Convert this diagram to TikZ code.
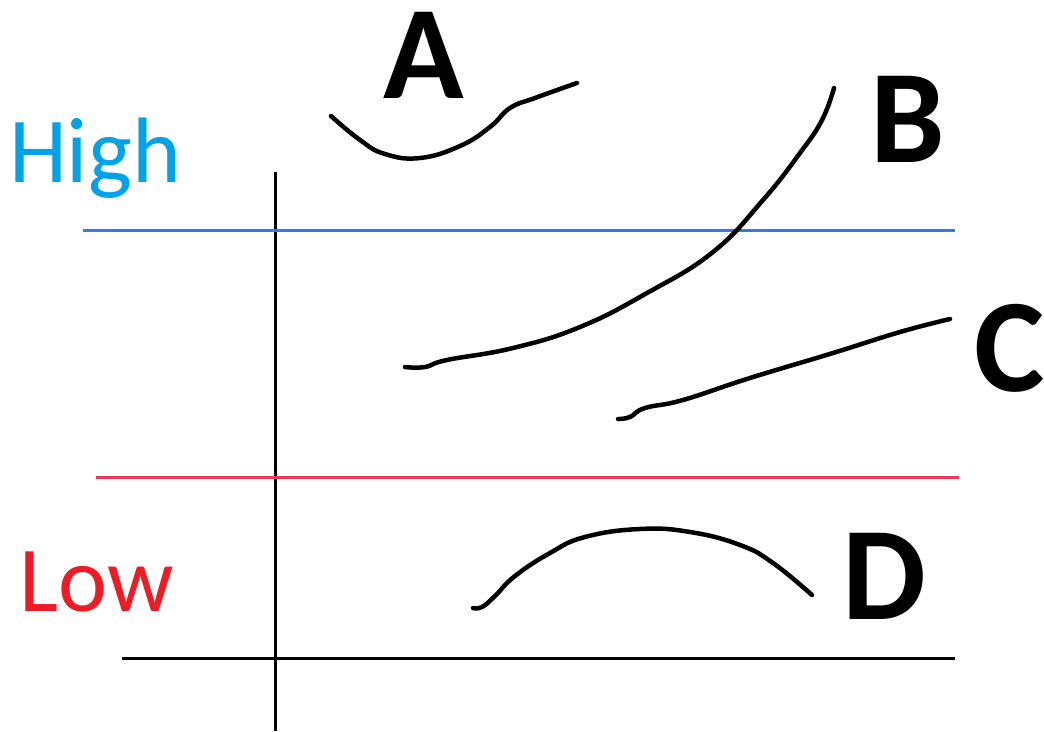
\documentclass[tikz,border=0pt]{standalone}
\usepackage{fontspec}
\setmainfont{Carlito}
\definecolor{hightext}{RGB}{0,162,232}
\definecolor{highline}{RGB}{45,125,230}
\definecolor{lowline}{RGB}{232,60,80}
\definecolor{lowtext}{RGB}{237,28,36}
\tikzset{
  axisline/.style={line width=3pt, black},
  levelline/.style={line width=3pt},
  sketch/.style={line width=4.5pt, black, line cap=round, line join=round},
  bigletter/.style={font=\fontsize{133}{133}\selectfont\bfseries, anchor=base, inner sep=0pt},
  leveltext/.style={font=\fontsize{93}{93}\selectfont, anchor=base, inner sep=0pt}
}
\begin{document}
\begin{tikzpicture}[x=1pt,y=-1pt]
\useasboundingbox (0,0) rectangle (1044,731);
% axes
\coordinate (vtop) at (275,172);
\coordinate (vbot) at (275,731);
\coordinate (hl) at (122,658);
\coordinate (hr) at (955,658);
\draw[axisline] (vtop) -- (vbot);
\draw[axisline] (hl) -- (hr);
% level lines
\coordinate (bl) at (83,230);
\coordinate (br) at (955,230);
\coordinate (rl) at (96,477);
\coordinate (rr) at (959,477);
\draw[levelline, highline] (bl) -- (br);
\draw[levelline, lowline] (rl) -- (rr);
% labels
\node[leveltext, text=hightext] (high) at (95,182) {High};
\node[leveltext, text=lowtext] (low) at (97,611) {Low};
\node[bigletter] (A) at (424,98) {A};
\node[bigletter] (B) at (908,162) {B};
\node[bigletter] (C) at (1010,391) {C};
\node[bigletter] (D) at (884,619) {D};
% curves
\draw[sketch] plot[smooth, tension=0.75] coordinates {(331,116) (360,140) (385,154) (420,158) (460,146) (490,127) (510,108) (535,98) (577,83)};
\draw[sketch] plot[smooth, tension=0.75] coordinates {(405,367) (425,367) (447,360) (513,348) (580,327) (647,293) (713,252) (763,200) (800,153) (822,120) (834,88)};
\draw[sketch] plot[smooth, tension=0.75] coordinates {(618,419) (630,417) (645,408) (683,400) (750,378) (833,353) (900,332) (950,319)};
\draw[sketch] plot[smooth, tension=0.75] coordinates {(473,608) (482,607) (495,596) (515,576) (550,553) (585,537) (640,529) (690,532) (740,545) (773,563) (812,595)};
\end{tikzpicture}
\end{document}
